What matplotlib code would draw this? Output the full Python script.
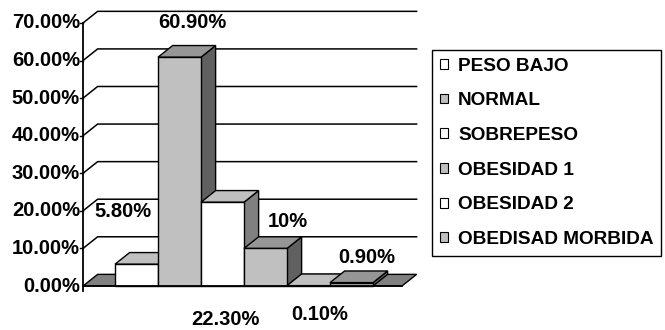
import matplotlib.pyplot as plt
from matplotlib.patches import Polygon, Rectangle, Patch

plt.rcParams['font.family'] = ['Liberation Sans', 'DejaVu Sans']
plt.rcParams['font.weight'] = 'bold'

categorias = ['PESO BAJO', 'NORMAL', 'SOBREPESO', 'OBESIDAD 1', 'OBESIDAD 2', 'OBEDISAD MORBIDA']
porcentajes = [5.8, 60.9, 22.3, 10.0, 0.1, 0.9]
etiquetas = ['5.80%', '60.90%', '22.30%', '10%', '0.10%', '0.90%']
ticks_y = [0, 10, 20, 30, 40, 50, 60, 70]

# colores por tipo de serie: frente, tapa, lado
estilos = [
    ('white', '#c0c0c0', '#808080'),
    ('#c0c0c0', '#969696', '#606060'),
]

# posicion de las etiquetas respecto a cada barra (desplazamiento x, altura y)
pos_etiquetas = [(0.19, 19.7), (0.81, 70.0), (0.56, -8.9), (1.02, 17.3), (0.77, -7.7), (0.86, 7.7)]

fs = 14.5

fig = plt.figure(figsize=(6.65, 3.3), dpi=100)
ax = fig.add_axes([0, 0, 1, 1])
ax.set_xlim(-115 / 43, 550 / 43)
ax.set_ylim(-11.71, 76.12)
ax.axis('off')

dx, dy = 0.34, 3.1          # profundidad del efecto 3D
x0, x1 = -0.744, 6.674      # borde frontal del piso

# paredes: lineas de division
for t in ticks_y[1:]:
    ax.plot([x0, x0 + dx, x1 + dx], [t, t + dy, t + dy], color='black', lw=1.1, zorder=1)
    ax.plot([x0 - 0.07, x0], [t, t], color='black', lw=1, zorder=1)
    ax.text(x0 - 0.07, t, f'{t:.2f}%', ha='right', va='center', fontsize=fs, zorder=6)
ax.text(x0 - 0.07, 0, f'{0:.2f}%', ha='right', va='center', fontsize=fs, zorder=6)
ax.plot([x0, x0], [-1.2, ticks_y[-1]], color='black', lw=1.3, zorder=5)

# piso
piso = Polygon([(x0, 0), (x1, 0), (x1 + dx, dy), (x0 + dx, dy)], closed=True,
               facecolor='#808080', edgecolor='black', lw=1, zorder=2)
ax.add_patch(piso)

# barras 3D, de izquierda a derecha
for i, v in enumerate(porcentajes):
    frente, tapa, lado = estilos[i % 2]
    z = 3 + i * 0.1
    ax.add_patch(Polygon([(i + 1, 0), (i + 1 + dx, dy), (i + 1 + dx, v + dy), (i + 1, v)],
                         closed=True, facecolor=lado, edgecolor='black', lw=1, zorder=z))
    ax.add_patch(Polygon([(i, v), (i + 1, v), (i + 1 + dx, v + dy), (i + dx, v + dy)],
                         closed=True, facecolor=tapa, edgecolor='black', lw=1, zorder=z))
    ax.add_patch(Rectangle((i, 0), 1, v, facecolor=frente, edgecolor='black', lw=1, zorder=z))

ax.plot([x0, x1], [0, 0], color='black', lw=1.3, zorder=5)

for i, (txt, (ox, oy)) in enumerate(zip(etiquetas, pos_etiquetas)):
    ax.text(i + ox, oy, txt, ha='center', va='center', fontsize=fs, zorder=7)

handles = [Patch(facecolor=estilos[i % 2][0], edgecolor='black', lw=0.8) for i in range(len(categorias))]
leg = ax.legend(handles, categorias, loc='upper left', bbox_to_anchor=(432 / 665, 1 - 50 / 330),
                bbox_transform=fig.transFigure, borderaxespad=0, fontsize=fs - 0.8,
                handlelength=0.42, handleheight=0.42, handletextpad=0.55, labelspacing=0.93,
                borderpad=0.4, fancybox=False, framealpha=1, edgecolor='black')
leg.get_frame().set_linewidth(1)

fig.savefig('out.png', dpi=100)
